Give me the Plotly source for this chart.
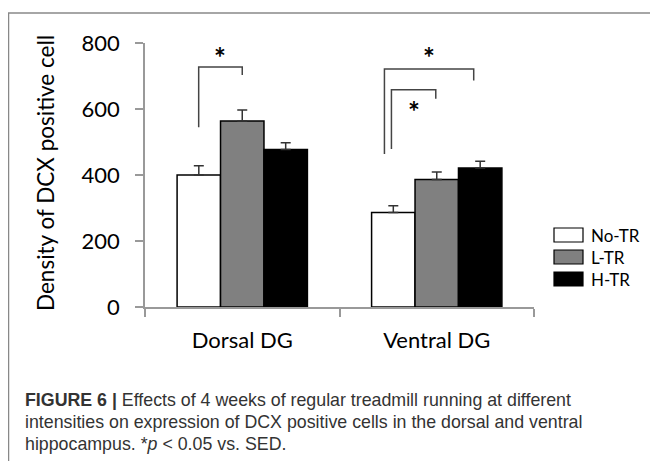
import plotly.graph_objects as go

# ---- data ----
regions = ["Dorsal DG", "Ventral DG"]
groups = ["No-TR", "L-TR", "H-TR"]
means = {
    "No-TR": [400, 286],
    "L-TR": [564, 386],
    "H-TR": [477, 421],
}
sems = {
    "No-TR": [28, 21],
    "L-TR": [33, 23],
    "H-TR": [21, 21],
}
bar_colors = {"No-TR": "#ffffff", "L-TR": "#808080", "H-TR": "#000000"}
y_ticks = [0, 200, 400, 600, 800]
caption_lines = [
    "<b>FIGURE 6 |</b> Effects of 4 weeks of regular treadmill running at different",
    "intensities on expression of DCX positive cells in the dorsal and ventral",
    "hippocampus. *<i>p</i> &lt; 0.05 vs. SED.",
]
# significance brackets: (x_left, x_right, top value, left foot, right foot, star x, star y)
brackets = [
    (-0.224, 0.0, 727, 545, 703, -0.115, 779),
    (0.731, 1.19, 721, 464, 686, 0.96, 779),
    (0.767, 0.995, 658, 479, 631, 0.882, 615),
]

FONT = "Lato, Carlito, Calibri, Open Sans, sans-serif"

# page offset of the figure (body margin)
OFF = 8
W, H = 658 - OFF, 461 - OFF
# plot area in page pixels
L, R, T, B = 145, 534, 43, 307


def px(x):
    return (x - L) / (R - L)


def py(y):
    return (B - y) / (B - T)


fig = go.Figure()
for g in groups:
    fig.add_trace(go.Bar(
        x=regions, y=means[g], name=g,
        marker=dict(color=bar_colors[g], line=dict(color="#000000", width=1.5)),
        error_y=dict(type="data", symmetric=False, array=sems[g],
                     arrayminus=[0] * len(sems[g]),
                     color="#333333", thickness=1.5, width=5),
        showlegend=False,
    ))

shapes = []
annotations = []
for xl, xr, top, fl, fr, sx, sy in brackets:
    shapes.append(dict(type="path", xref="x", yref="y",
                       path=f"M {xl},{fl} L {xl},{top} L {xr},{top} L {xr},{fr}",
                       line=dict(color="#444444", width=1.5)))
    annotations.append(dict(x=sx, y=sy, xref="x", yref="y", text="<b>*</b>",
                            showarrow=False, yshift=-7,
                            font=dict(size=28, color="#000", family=FONT),
                            yanchor="middle"))

# frame
shapes.append(dict(type="line", xref="paper", yref="paper", x0=px(8), x1=px(700),
                   y0=py(13), y1=py(13), line=dict(color="#888888", width=1.5)))
shapes.append(dict(type="line", xref="paper", yref="paper", x0=px(8.5), x1=px(8.5),
                   y0=py(13), y1=py(480), line=dict(color="#888888", width=1.5)))

# legend (drawn manually)
for i, g in enumerate(groups):
    cy = 235 + 22 * i
    shapes.append(dict(type="rect", xref="paper", yref="paper",
                       x0=px(554), x1=px(583), y0=py(cy - 7), y1=py(cy + 7),
                       fillcolor=bar_colors[g], line=dict(color="#000000", width=1.2)))
    annotations.append(dict(x=px(589), y=py(cy), xref="paper", yref="paper", text=g,
                            showarrow=False, xanchor="left", yanchor="middle",
                            font=dict(size=17, color="#000", family=FONT)))

# y-axis title
annotations.append(dict(x=px(45), y=py(173), xref="paper", yref="paper",
                        text="Density of DCX positive cell", textangle=-90,
                        showarrow=False, xanchor="center", yanchor="middle",
                        font=dict(size=22.5, color="#000", family=FONT)))

# caption
for i, line in enumerate(caption_lines):
    annotations.append(dict(x=px(23), y=py(400 + 22 * i), xref="paper", yref="paper",
                            text=line, showarrow=False, xanchor="left", yanchor="middle",
                            align="left",
                            font=dict(size=17.8, color="#333333",
                                      family="Liberation Sans, Arial")))

fig.update_layout(
    width=W, height=H,
    margin=dict(l=L - OFF, r=W - (R - OFF), t=T - OFF, b=H - (B - OFF)),
    paper_bgcolor="white", plot_bgcolor="white",
    barmode="group", bargap=0.33, bargroupgap=0,
    shapes=shapes, annotations=annotations,
    showlegend=False,
)
fig.update_xaxes(showline=True, linecolor="#999999", linewidth=1.5,
                 ticks="outside", tickson="boundaries", ticklen=8, tickcolor="#999999",
                 tickwidth=1.5,
                 tickfont=dict(size=22, color="#000", family=FONT), showgrid=False,
                 ticklabelstandoff=13)
fig.update_yaxes(range=[0, 800], tickvals=y_ticks, showline=True, linecolor="#999999",
                 linewidth=1.5, ticks="outside", ticklen=8, tickcolor="#999999",
                 tickwidth=1.5, showgrid=False, zeroline=False,
                 tickfont=dict(size=22, color="#000", family=FONT), ticklabelstandoff=11)

fig.write_html("out.html")
